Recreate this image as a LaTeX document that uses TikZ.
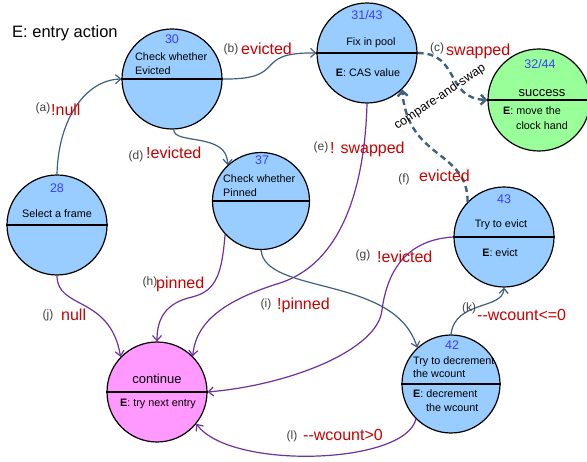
\documentclass[tikz,border=0pt]{standalone}
\usepackage{fontspec}
\setmainfont{Liberation Sans}
\usetikzlibrary{arrows.meta}
\definecolor{nodeblue}{RGB}{153,204,255}
\definecolor{nodegreen}{RGB}{153,255,153}
\definecolor{nodepink}{RGB}{255,153,255}
\definecolor{numblue}{RGB}{60,60,255}
\definecolor{lblred}{RGB}{204,0,0}
\definecolor{edgeblue}{RGB}{64,96,128}
\definecolor{edgepurple}{RGB}{112,48,160}
\tikzset{
 state/.style={circle,draw=black,line width=1.2pt,minimum size=100pt,inner sep=0pt},
 divline/.style={line width=2.8pt,line cap=butt},
 num/.style={text=numblue,font=\fontsize{12.5}{14}\selectfont,inner sep=0pt,text height=9pt,text depth=0pt},
 intext/.style={font=\fontsize{10.8}{12.5}\selectfont,inner sep=0pt,text height=7.7pt,text depth=0pt},
 bigtext/.style={font=\fontsize{13}{15}\selectfont,inner sep=0pt,text height=9.3pt,text depth=0pt},
 tag/.style={font=\fontsize{12}{14}\selectfont,text=black!75,inner sep=0pt,text height=8.6pt,text depth=0pt},
 cond/.style={font=\fontsize{16}{18}\selectfont,text=lblred,inner sep=0pt,text height=11.5pt,text depth=0pt,anchor=west},
 bluearrow/.style={draw=edgeblue,line width=1.2pt,-{Straight Barb[length=5pt,width=9pt]}},
 purplearrow/.style={draw=edgepurple,line width=1.2pt,-{Straight Barb[length=5pt,width=9pt]}},
 dasharrow/.style={draw=edgeblue,line width=2.4pt,dash pattern=on 6pt off 4pt,-{Straight Barb[length=5pt,width=10pt]}},
}
\begin{document}
\begin{tikzpicture}[x=1pt,y=-1pt]
\useasboundingbox (0,0) rectangle (587,462);
% states
\node[state,fill=nodeblue] (n30) at (172,79) {};
\node[state,fill=nodeblue] (n3143) at (367,53) {};
\node[state,fill=nodegreen,minimum size=102pt] (n3244) at (539,100) {};
\node[state,fill=nodeblue] (n28) at (57,225) {};
\node[state,fill=nodeblue,minimum size=97pt] (n37) at (261,201) {};
\node[state,fill=nodeblue] (n43) at (504,237) {};
\node[state,fill=nodeblue,minimum size=98pt] (n42) at (451,384) {};
\node[state,fill=nodepink] (ncont) at (157,392) {};
% dividers
\foreach \n in {n30,n3143,n3244,n28,n37,n43,n42,ncont}
  \draw[divline] (\n.west) -- (\n.east);
% texts inside states
\node[num] (t30) at (172,39) {30};
\node[intext,anchor=west] (t30a) at (135,57) {Check whether};
\node[intext,anchor=west] (t30b) at (135,71) {Evicted};
\node[num] (t3143) at (367,15) {31/43};
\node[intext] (t3143a) at (371,42) {Fix in pool};
\node[intext] (t3143b) at (368,73) {\textbf{E}: CAS value};
\node[num] (t3244) at (540,64) {32/44};
\node[bigtext] (t3244a) at (542,92) {success};
\node[intext] (t3244b) at (532,111) {\textbf{E}: move the};
\node[intext] (t3244c) at (542,126) {clock hand};
\node[num] (t28) at (57,188) {28};
\node[intext] (t28a) at (57,214) {Select a frame};
\node[num] (t37) at (262,160) {37};
\node[intext,anchor=west] (t37a) at (223,179) {Check whether};
\node[intext,anchor=west] (t37b) at (223,193) {Pinned};
\node[num] (t43) at (504,199) {43};
\node[intext] (t43a) at (501,224) {Try to evict};
\node[intext] (t43b) at (500,253) {\textbf{E}: evict};
\node[num] (t42) at (452,345) {42};
\node[intext,anchor=west] (t42a) at (413,361) {Try to decrement};
\node[intext,anchor=west] (t42b) at (413,374) {the wcount};
\node[intext,anchor=west] (t42c) at (413,394) {\textbf{E}: decrement};
\node[intext,anchor=west] (t42d) at (426,408) {the wcount};
\node[bigtext] (tconta) at (157,379) {continue};
\node[intext] (tcontb) at (158,403) {\textbf{E}: try next entry};
% title
\node[font=\fontsize{16.5}{19}\selectfont,inner sep=0pt,anchor=west,text height=11.8pt,text depth=0pt] (title) at (12,32) {E: entry action};
% connectors
\draw[bluearrow] (n28.north) .. controls (58,120) and (85,80) .. (n30.west);
\draw[bluearrow] (n30.east) .. controls (290,80) and (250,52) .. (n3143.west);
\draw[dasharrow] (n3143.east) .. controls (460,53) and (445,98) .. (n3244.west);
\draw[dasharrow] (n43.136) .. controls (468,150) and (408,160) .. (n3143.-46);
\draw[bluearrow] (n30.-88) .. controls (173,145) and (228,132) .. (n37.133);
\draw[purplearrow] (n3143.south) .. controls (365,180) and (345,262) .. (280,283) .. controls (232,298) and (196,318) .. (ncont.45);
\draw[purplearrow] (n37.-137) .. controls (222,270) and (218,291) .. (192,297) .. controls (166,303) and (157,318) .. (ncont.north);
\draw[purplearrow] (n28.south) .. controls (57,310) and (110,295) .. (ncont.136);
\draw[bluearrow] (n37.south) .. controls (265,295) and (395,275) .. (n42.133);
\draw[purplearrow] (n43.west) .. controls (400,240) and (386,280) .. (382,310) .. controls (378,350) and (290,385) .. (ncont.east);
\draw[bluearrow] (n42.north) .. controls (455,300) and (503,310) .. (n43.south);
\draw[purplearrow] (n42.-135) .. controls (405,465) and (230,470) .. (ncont.-39);
% labels
\node[font=\fontsize{12.5}{14}\selectfont,rotate=34,inner sep=0pt] (cas) at (440,97) {compare-and-swap};
\node[tag] (la) at (43,107) {(a)};
\node[cond] (ca) at (51,110) {!null};
\node[tag] (lb) at (231,48) {(b)};
\node[cond] (cb) at (241,49) {evicted};
\node[tag] (lc) at (437,47) {(c)};
\node[cond] (cc) at (446,50) {swapped};
\node[tag] (ld) at (136,155) {(d)};
\node[cond] (cd) at (146,153) {!evicted};
\node[tag] (le) at (321,146) {(e)};
\node[cond] (ce) at (330,148) {! swapped};
\node[tag] (lf) at (404,178) {(f)};
\node[cond] (cf) at (419,176) {evicted};
\node[tag] (lg) at (363,254) {(g)};
\node[cond] (cg) at (377,257) {!evicted};
\node[tag] (lh) at (150,281) {(h)};
\node[cond] (ch) at (156,283) {pinned};
\node[tag] (li) at (266,303) {(i)};
\node[cond] (ci) at (277,304) {!pinned};
\node[tag] (lj) at (48,314) {(j)};
\node[cond] (cj) at (61,315) {null};
\node[tag] (lk) at (469,307) {(k)};
\node[cond] (ck) at (477,315) {-{}-wcount<=0};
\node[tag] (ll) at (292,435) {(l)};
\node[cond] (cl) at (303,435) {-{}-wcount>0};
\end{tikzpicture}
\end{document}
